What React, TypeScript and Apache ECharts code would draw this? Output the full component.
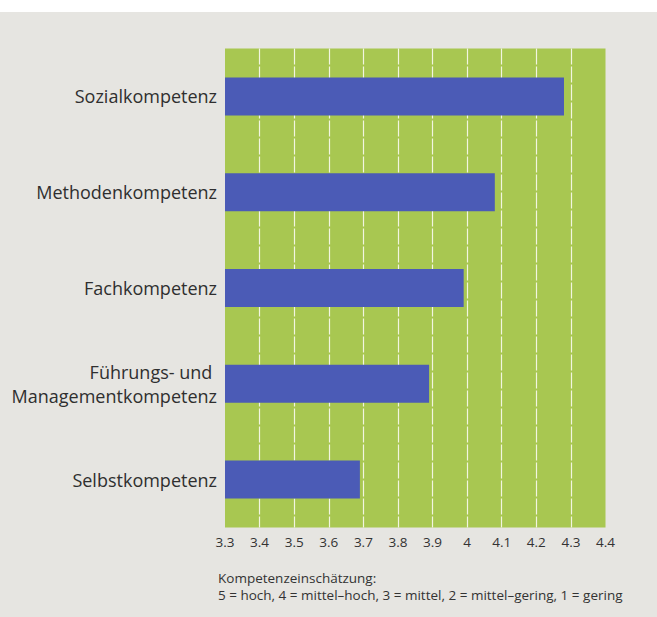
import React, { useEffect, useRef } from "react";
import * as echarts from "echarts";

const categories = [
  "Sozialkompetenz",
  "Methodenkompetenz",
  "Fachkompetenz",
  "Führungs- und \nManagementkompetenz",
  "Selbstkompetenz",
];
const values = [4.28, 4.08, 3.99, 3.89, 3.69];
const axisMin = 3.3;
const axisMax = 4.4;
const axisStep = 0.1;
const footerLines = [
  "Kompetenzeinschätzung:",
  "5 = hoch, 4 = mittel–hoch, 3 = mittel, 2 = mittel–gering, 1 = gering",
];

const FONT = "'Open Sans', 'Noto Sans', sans-serif";

export default function App() {
  const ref = useRef<HTMLDivElement>(null);
  useEffect(() => {
    if (!ref.current) return;
    const chart = echarts.init(ref.current, null, { renderer: "svg" });
    chart.setOption({
      animation: false,
      backgroundColor: "#e6e5e1",
      grid: {
        left: 225,
        right: 51.5,
        top: 48.5,
        bottom: 89.5,
        show: true,
        backgroundColor: "#a8c751",
        borderWidth: 0,
      },
      xAxis: {
        type: "value",
        min: axisMin,
        max: axisMax,
        interval: axisStep,
        axisLine: { show: false },
        axisTick: { show: false },
        axisLabel: {
          margin: 7,
          color: "#333",
          fontFamily: FONT,
          fontSize: 13.5,
          formatter: (v: number) => String(Math.round(v * 10) / 10),
        },
        splitLine: {
          show: true,
          showMinLine: false,
          showMaxLine: false,
          lineStyle: { color: "#f2f5e0", width: 1.2, type: [16, 2] },
        },
      },
      yAxis: {
        type: "category",
        inverse: true,
        data: categories,
        axisLine: { show: false },
        axisTick: { show: false },
        axisLabel: {
          margin: 8,
          color: "#2f2f2f",
          fontFamily: FONT,
          fontSize: 18,
          lineHeight: 24,
          align: "right",
        },
      },
      series: [
        {
          type: "bar",
          data: values,
          barWidth: 38,
          itemStyle: { color: "#4b5bb6" },
        },
      ],
      graphic: [
        {
          type: "rect",
          left: 0,
          top: 0,
          shape: { width: 657, height: 12 },
          style: { fill: "#ffffff" },
        },
        {
          type: "text",
          left: 218,
          top: 569,
          style: {
            text: footerLines.join("\n"),
            fill: "#333",
            font: `13.5px ${FONT}`,
            lineHeight: 17,
          },
        },
      ],
    });
    return () => chart.dispose();
  }, []);
  return (
    <div
      ref={ref}
      style={{ position: "absolute", left: 0, top: 0, width: 657, height: 617 }}
    />
  );
}
